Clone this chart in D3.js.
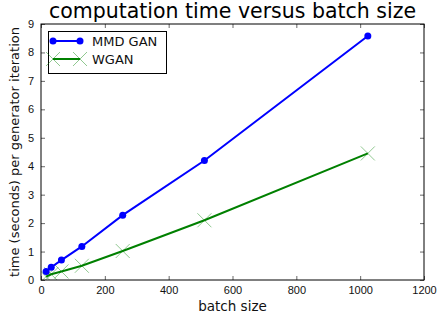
<!DOCTYPE html>
<html>
<head>
<meta charset="utf-8">
<script src="https://cdn.jsdelivr.net/npm/d3@7"></script>
<style>
  body { margin: 0; background: #fff; }
  svg { font-family: "DejaVu Sans", sans-serif; }
</style>
</head>
<body>
<div id="chart"></div>
<script>
// values
var batchSizes = [16, 32, 64, 128, 256, 512, 1024]
var mmdGan = [0.3, 0.45, 0.7, 1.18, 2.28, 4.2, 8.58]
var wgan = [0.12, 0.2, 0.3, 0.5, 1.02, 2.1, 4.45]
var xTicks = [0, 200, 400, 600, 800, 1000, 1200]
var yTicks = [0, 1, 2, 3, 4, 5, 6, 7, 8, 9]

var w = 439, h = 316
var m = {top: 24, right: 15, bottom: 36, left: 41}

var svg = d3.select("#chart")
  .append("svg")
  .attr("width", w)
  .attr("height", h)

var x = d3.scaleLinear().domain([0, 1200]).range([m.left, w - m.right])
var y = d3.scaleLinear().domain([0, 9]).range([h - m.bottom, m.top])

var line = d3.line()
  .x(function(d, i) { return x(batchSizes[i]) })
  .y(function(d) { return y(d) })

// clip so markers at the edge get cut like matplotlib does
svg.append("clipPath").attr("id", "plot-clip")
  .append("rect")
  .attr("x", m.left).attr("y", m.top)
  .attr("width", w - m.left - m.right).attr("height", h - m.top - m.bottom)

var plot = svg.append("g").attr("clip-path", "url(#plot-clip)")

// WGAN series (green, big thin x markers)
plot.append("path")
  .attr("d", line(wgan))
  .attr("fill", "none")
  .attr("stroke", "#008000")
  .attr("stroke-width", 2)

function xMark(g, cx, cy, s) {
  g.append("path")
    .attr("d", "M" + (cx - s) + "," + (cy - s) + "L" + (cx + s) + "," + (cy + s) +
               "M" + (cx - s) + "," + (cy + s) + "L" + (cx + s) + "," + (cy - s))
    .attr("stroke", "#008000")
    .attr("stroke-opacity", 0.55)
    .attr("stroke-width", 0.8)
    .attr("fill", "none")
}

wgan.forEach(function(d, i) { xMark(plot, x(batchSizes[i]), y(d), 7) })

// MMD GAN series (blue, dots)
plot.append("path")
  .attr("d", line(mmdGan))
  .attr("fill", "none")
  .attr("stroke", "#0000ff")
  .attr("stroke-width", 2)

plot.selectAll(".dot")
  .data(mmdGan)
  .join("circle")
  .attr("cx", function(d, i) { return x(batchSizes[i]) })
  .attr("cy", function(d) { return y(d) })
  .attr("r", 3.5)
  .attr("fill", "#0000ff")

// axes, ticks pointing inward on all four sides
var tl = 4
var fmt = d3.format("d")
var axisStyle = function(g) {
  g.select(".domain").remove()
  g.selectAll("line").attr("stroke", "#000").attr("stroke-width", 0.6)
  g.selectAll("text").attr("font-size", 11).attr("fill", "#111")
}

svg.append("g")
  .attr("transform", "translate(0," + (h - m.bottom) + ")")
  .call(d3.axisBottom(x).tickValues(xTicks).tickFormat(fmt).tickSizeInner(-tl).tickSizeOuter(0).tickPadding(6))
  .call(axisStyle)

svg.append("g")
  .attr("transform", "translate(0," + m.top + ")")
  .call(d3.axisTop(x).tickValues(xTicks).tickSizeInner(-tl).tickSizeOuter(0).tickFormat(""))
  .call(axisStyle)

svg.append("g")
  .attr("transform", "translate(" + m.left + ",0)")
  .call(d3.axisLeft(y).tickValues(yTicks).tickFormat(fmt).tickSizeInner(-tl).tickSizeOuter(0).tickPadding(7))
  .call(axisStyle)

svg.append("g")
  .attr("transform", "translate(" + (w - m.right) + ",0)")
  .call(d3.axisRight(y).tickValues(yTicks).tickSizeInner(-tl).tickSizeOuter(0).tickFormat(""))
  .call(axisStyle)

svg.append("rect")
  .attr("x", m.left).attr("y", m.top)
  .attr("width", w - m.left - m.right).attr("height", h - m.top - m.bottom)
  .attr("fill", "none")
  .attr("stroke", "#000")
  .attr("stroke-width", 1)

// labels
svg.append("text")
  .attr("x", (m.left + w - m.right) / 2)
  .attr("y", 18)
  .attr("text-anchor", "middle")
  .attr("font-size", 20.5)
  .text("computation time versus batch size")

svg.append("text")
  .attr("x", (m.left + w - m.right) / 2)
  .attr("y", 311)
  .attr("text-anchor", "middle")
  .attr("font-size", 13.5)
  .attr("fill", "#111")
  .text("batch size")

svg.append("text")
  .attr("transform", "translate(19," + ((m.top + h - m.bottom) / 2) + ") rotate(-90)")
  .attr("text-anchor", "middle")
  .attr("font-size", 13)
  .attr("fill", "#111")
  .text("time (seconds) per generator iteration")

// legend
var lg = svg.append("g")
lg.append("rect")
  .attr("x", 48.5).attr("y", 31.5)
  .attr("width", 118).attr("height", 42)
  .attr("fill", "#fff")
  .attr("stroke", "#000")
  .attr("stroke-width", 1)

lg.append("line")
  .attr("x1", 53).attr("x2", 80).attr("y1", 41).attr("y2", 41)
  .attr("stroke", "#0000ff").attr("stroke-width", 2)
lg.selectAll(".ldot").data([53, 80]).join("circle")
  .attr("cx", function(d) { return d }).attr("cy", 41).attr("r", 3.5)
  .attr("fill", "#0000ff")
lg.append("text").attr("x", 92).attr("y", 45.5).attr("font-size", 13).attr("fill", "#111").text("MMD GAN")

lg.append("line")
  .attr("x1", 53).attr("x2", 80).attr("y1", 59).attr("y2", 59)
  .attr("stroke", "#008000").attr("stroke-width", 2)
xMark(lg, 53, 59, 7)
xMark(lg, 80, 59, 7)
lg.append("text").attr("x", 92).attr("y", 63.5).attr("font-size", 13).attr("fill", "#111").text("WGAN")
</script>
</body>
</html>
